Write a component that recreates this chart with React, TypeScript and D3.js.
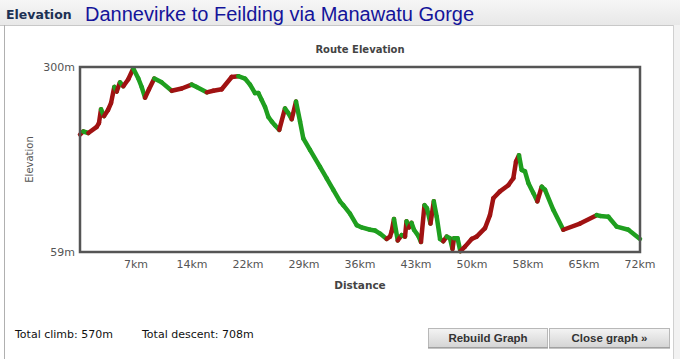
import React from 'react';
import * as d3 from 'd3';

const distanceKm = [
  0, 0.42, 1.07, 2.15, 2.44, 2.7, 3.09, 3.6, 3.99, 4.41, 4.72, 5.14, 5.57, 6.21, 6.85, 7.5, 7.93, 8.36, 8.87, 9.55,
  10.5, 11.79, 13.08, 14.36, 15.0, 16.29, 17.14, 18.22, 19.5, 20.35, 21.21, 21.86, 22.5, 22.93, 23.36, 23.79, 24.21, 24.65, 25.07, 25.62,
  26.36, 26.78, 27.22, 27.77, 28.29, 28.71, 29.57, 30.86, 31.72, 32.57, 33.43, 33.85, 34.71, 35.58, 36.22, 37.29, 37.93, 38.57, 39.43, 39.86,
  40.08, 40.37, 40.85, 41.36, 41.79, 41.98, 42.3, 42.62, 42.94, 43.5, 43.84, 44.29, 44.61, 45.06, 45.49, 45.86, 46.29, 46.71, 47.15, 47.57,
  47.89, 48.09, 48.54, 48.9, 49.5, 50.36, 51.0, 52.07, 52.71, 53.14, 54.0, 55.07, 55.71, 56.06, 56.44, 56.79, 57.21, 57.64, 58.28, 58.8,
  59.36, 59.79, 60.85, 62.14, 64.29, 66.43, 66.86, 67.93, 69.0, 70.5, 72.0,
];
const elevationM = [
  212, 216, 214, 222, 227, 245, 236, 244, 253, 274, 268, 280, 275, 284, 298, 285, 274, 260, 271, 285,
  280, 269, 272, 277, 274, 267, 269, 271, 287, 288, 285, 277, 266, 266, 257, 248, 235, 229, 224, 218,
  246, 240, 232, 255, 229, 207, 192, 170, 155, 140, 125, 120, 109, 94, 91, 88, 87, 83, 76, 79,
  86, 102, 74, 81, 79, 99, 91, 97, 88, 80, 72, 120, 116, 96, 125, 105, 76, 73, 79, 77,
  63, 77, 77, 60, 66, 76, 79, 90, 107, 129, 138, 146, 155, 177, 185, 166, 164, 149, 136, 125,
  144, 140, 114, 88, 96, 107, 106, 105, 92, 88, 76,
];
const xTickValues = [7.2, 14.4, 21.6, 28.8, 36, 43.2, 50.4, 57.6, 64.8, 72];
const xTickLabels = ['7km', '14km', '22km', '29km', '36km', '43km', '50km', '58km', '65km', '72km'];
const yTickValues = [59, 300];
const yTickLabels = ['59m', '300m'];

const headerLabel = 'Elevation';
const routeTitle = 'Dannevirke to Feilding via Manawatu Gorge';
const chartTitle = 'Route Elevation';
const xAxisTitle = 'Distance';
const yAxisTitle = 'Elevation';
const totalClimb = 'Total climb: 570m';
const totalDescent = 'Total descent: 708m';
const buttonLabels = ['Rebuild Graph', 'Close graph \u00bb'];

const W = 680;
const H = 359;
const plot = { left: 80, top: 67, right: 640, bottom: 252 };
const RED = '#a01212';
const GREEN = '#1f9f1f';
const AXIS_FONT = '"DejaVu Sans", Verdana, sans-serif';
const BTN_FONT = '"Liberation Sans", Arial, sans-serif';

export default function App() {
  const x = d3.scaleLinear().domain([0, 72]).range([plot.left, plot.right]);
  const y = d3.scaleLinear().domain([59, 300]).range([plot.bottom, plot.top]);

  const segs = [];
  for (let i = 0; i < distanceKm.length - 1; i++) {
    const up = elevationM[i + 1] > elevationM[i];
    segs.push(
      <line
        key={i}
        x1={x(distanceKm[i])}
        y1={y(elevationM[i])}
        x2={x(distanceKm[i + 1])}
        y2={y(elevationM[i + 1])}
        stroke={up ? RED : GREEN}
        strokeWidth={4.5}
        strokeLinecap="round"
      />
    );
  }

  const buttons = [
    { x0: 428, x1: 548 },
    { x0: 549, x1: 670 },
  ];

  return (
    <svg width={W} height={H} style={{ position: 'absolute', left: 0, top: 0, background: '#fff' }}>
      <defs>
        <linearGradient id="hdr" x1="0" y1="0" x2="0" y2="1">
          <stop offset="0" stopColor="#f6f6f6" />
          <stop offset="1" stopColor="#e8e8e8" />
        </linearGradient>
        <linearGradient id="btn" x1="0" y1="0" x2="0" y2="1">
          <stop offset="0" stopColor="#f4f4f4" />
          <stop offset="1" stopColor="#d4d4d4" />
        </linearGradient>
      </defs>
      <rect x={0} y={0} width={W} height={H} fill="#fff" />
      {/* header */}
      <rect x={0} y={0} width={W} height={25} fill="url(#hdr)" />
      <line x1={0} y1={25.5} x2={W} y2={25.5} stroke="#c8c8c8" />
      <line x1={4.5} y1={25} x2={4.5} y2={H} stroke="#b0b0b0" />
      <rect x={674} y={25} width={6} height={H - 25} fill="#f2f2f2" />
      <line x1={673.5} y1={25} x2={673.5} y2={H} stroke="#d0d0d0" />
      <text x={6} y={19} fontFamily={AXIS_FONT} fontWeight="bold" fontSize={12.5} fill="#1c3154">
        {headerLabel}
      </text>
      <text x={85} y={21} fontFamily="'Liberation Sans', Arial, sans-serif" fontSize={20} fill="#14149a">
        {routeTitle}
      </text>

      {/* chart title */}
      <text x={360} y={53} textAnchor="middle" fontFamily={AXIS_FONT} fontWeight="bold" fontSize={10} fill="#444">
        {chartTitle}
      </text>

      {/* y axis labels */}
      {yTickValues.map((v, i) => (
        <text key={v} x={75} y={y(v) + 4} textAnchor="end" fontFamily={AXIS_FONT} fontSize={11} fill="#555">
          {yTickLabels[i]}
        </text>
      ))}
      <text
        transform={`translate(33,${(plot.top + plot.bottom) / 2}) rotate(-90)`}
        textAnchor="middle"
        fontFamily={AXIS_FONT}
        fontSize={10}
        fill="#555"
      >
        {yAxisTitle}
      </text>

      {/* x axis labels */}
      {xTickValues.map((v, i) => (
        <text key={v} x={x(v)} y={268} textAnchor="middle" fontFamily={AXIS_FONT} fontSize={11} fill="#555">
          {xTickLabels[i]}
        </text>
      ))}
      <text x={360} y={289} textAnchor="middle" fontFamily={AXIS_FONT} fontWeight="bold" fontSize={10.5} fill="#444">
        {xAxisTitle}
      </text>

      {/* line */}
      <g>{segs}</g>

      {/* frame */}
      <rect
        x={plot.left}
        y={plot.top}
        width={plot.right - plot.left}
        height={plot.bottom - plot.top}
        fill="none"
        stroke="#555"
        strokeWidth={2.5}
      />

      {/* footer */}
      <text x={15} y={338} fontFamily={AXIS_FONT} fontSize={11} fill="#111">
        {totalClimb}
      </text>
      <text x={142} y={338} fontFamily={AXIS_FONT} fontSize={11} fill="#111">
        {totalDescent}
      </text>
      {buttons.map((b, i) => (
        <g key={i}>
          <rect x={b.x0 + 0.5} y={328.5} width={b.x1 - b.x0 - 1} height={19} fill="url(#btn)" stroke="#b8b8b8" />
          <line x1={b.x0} y1={348} x2={b.x1} y2={348} stroke="#8a8a8a" />
          <text
            x={(b.x0 + b.x1) / 2}
            y={342}
            textAnchor="middle"
            fontFamily={BTN_FONT}
            fontWeight="bold"
            fontSize={11.5}
            fill="#333"
          >
            {buttonLabels[i]}
          </text>
        </g>
      ))}
    </svg>
  );
}
